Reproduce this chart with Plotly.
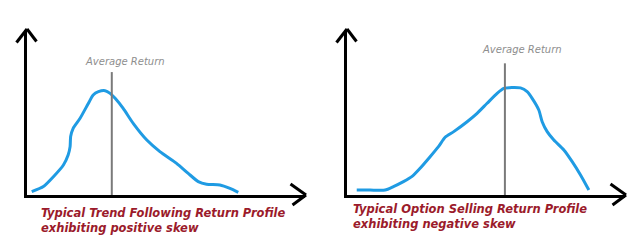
import plotly.graph_objects as go

# ---- data ----
# Panel 1: trend following, positive skew
tf_return = [1.7, 5.9, 9.5, 13.1, 14.8, 15.5, 15.7, 16.6, 19.1, 22.1, 23.8, 25.7, 28.1,
             29.9, 31.7, 34.6, 38.2, 43.1, 47.8, 53.8, 58.0, 61.6, 64.6, 69.4, 73.0, 76.0]
tf_freq = [2.0, 5.1, 11.1, 18.2, 24.2, 29.3, 35.4, 40.4, 46.5, 55.6, 60.6, 62.6, 63.2,
           61.6, 58.6, 52.5, 43.4, 33.3, 26.3, 19.2, 13.1, 8.1, 6.5, 6.1, 4.0, 1.6]
tf_avg_return = 30.5
tf_avg_top = 74.5

# Panel 2: option selling, negative skew
os_return = [3.5, 8.3, 13.7, 16.7, 20.3, 23.3, 26.3, 29.9, 32.9, 35.3, 38.4, 43.2, 46.8,
             50.4, 54.0, 56.4, 59.4, 62.4, 64.8, 66.6, 69.0, 70.2, 72.0, 74.4, 78.0, 81.0,
             84.0, 87.0]
os_freq = [3.0, 3.0, 3.0, 5.1, 8.1, 11.1, 16.2, 23.2, 29.3, 35.0, 38.4, 44.4, 49.5,
           55.6, 61.6, 64.6, 65.2, 64.9, 62.6, 58.6, 51.5, 44.4, 38.4, 33.3, 27.3, 20.2,
           12.1, 3.0]
os_avg_return = 56.8
os_avg_top = 79.8

titles = ["Typical Trend Following Return Profile<br>exhibiting positive skew",
          "Typical Option Selling Return Profile<br>exhibiting negative skew"]
avg_label = "Average Return"

BLUE = "#1f9be3"
GRAY = "#7a7a7a"
RED = "#9b1b2b"

fig = go.Figure()

fig.add_trace(go.Scatter(x=tf_return, y=tf_freq, mode="lines", xaxis="x", yaxis="y",
                         line=dict(color=BLUE, width=3, shape="spline", smoothing=0.6),
                         hoverinfo="skip", showlegend=False))
fig.add_trace(go.Scatter(x=[tf_avg_return, tf_avg_return], y=[-1.5, tf_avg_top], mode="lines",
                         xaxis="x", yaxis="y", line=dict(color=GRAY, width=2),
                         hoverinfo="skip", showlegend=False))
fig.add_trace(go.Scatter(x=os_return, y=os_freq, mode="lines", xaxis="x2", yaxis="y2",
                         line=dict(color=BLUE, width=3, shape="spline", smoothing=0.6),
                         hoverinfo="skip", showlegend=False))
fig.add_trace(go.Scatter(x=[os_avg_return, os_avg_return], y=[-1.5, os_avg_top], mode="lines",
                         xaxis="x2", yaxis="y2", line=dict(color=GRAY, width=2),
                         hoverinfo="skip", showlegend=False))

W, H = 640, 244
ydom = [(H - 195) / H, (H - 30) / H]
ax_common = dict(range=[0, 100], showgrid=False, zeroline=False, showticklabels=False,
                 ticks="", showline=True, linecolor="black", linewidth=3, fixedrange=True)

fig.update_layout(
    width=W, height=H, margin=dict(l=0, r=0, t=0, b=0),
    paper_bgcolor="white", plot_bgcolor="white",
    xaxis=dict(domain=[27 / W, 305 / W], anchor="y", **ax_common),
    yaxis=dict(domain=ydom, anchor="x", **ax_common),
    xaxis2=dict(domain=[347 / W, 625 / W], anchor="y2", **ax_common),
    yaxis2=dict(domain=ydom, anchor="x2", **ax_common),
)

shapes = []
pw, ph = 278.0, 165.0
for xr, yr in [("x domain", "y domain"), ("x2 domain", "y2 domain")]:
    # y-axis arrowhead (chevron)
    for dx, dy in [(-10.5, -12.5), (9.5, -11.5)]:
        shapes.append(dict(type="line", xref=xr, yref=yr, x0=0, y0=1 + 1 / ph,
                           x1=dx / pw, y1=1 + dy / ph, line=dict(color="black", width=3)))
    # x-axis arrowhead (chevron)
    for dx, dy in [(-14.5, 11), (-12.5, -10)]:
        shapes.append(dict(type="line", xref=xr, yref=yr, x0=1 + 1 / pw, y0=0,
                           x1=1 + dx / pw, y1=dy / ph, line=dict(color="black", width=3)))
fig.update_layout(shapes=shapes)

avg_font = dict(family="DejaVu Sans", size=10, color="#8e8e8e", style="italic")
title_font = dict(family="DejaVu Sans", size=11.5, color=RED, style="italic", weight="bold")
ann = []
ann.append(dict(x=35.3, y=81.2, xref="x", yref="y", text=avg_label, showarrow=False,
                font=avg_font))
ann.append(dict(x=62.9, y=87.9, xref="x2", yref="y2", text=avg_label, showarrow=False,
                font=avg_font))
ann.append(dict(x=(39 - 27) / pw, y=(H - 220) / H, xref="x domain", yref="paper",
                xanchor="left", yanchor="middle", align="left", text=titles[0], showarrow=False,
                font=title_font))
ann.append(dict(x=(351 - 347) / pw, y=(H - 216) / H, xref="x2 domain", yref="paper",
                xanchor="left", yanchor="middle", align="left", text=titles[1], showarrow=False,
                font=title_font))
fig.update_layout(annotations=ann)

fig.write_html("out.html")
